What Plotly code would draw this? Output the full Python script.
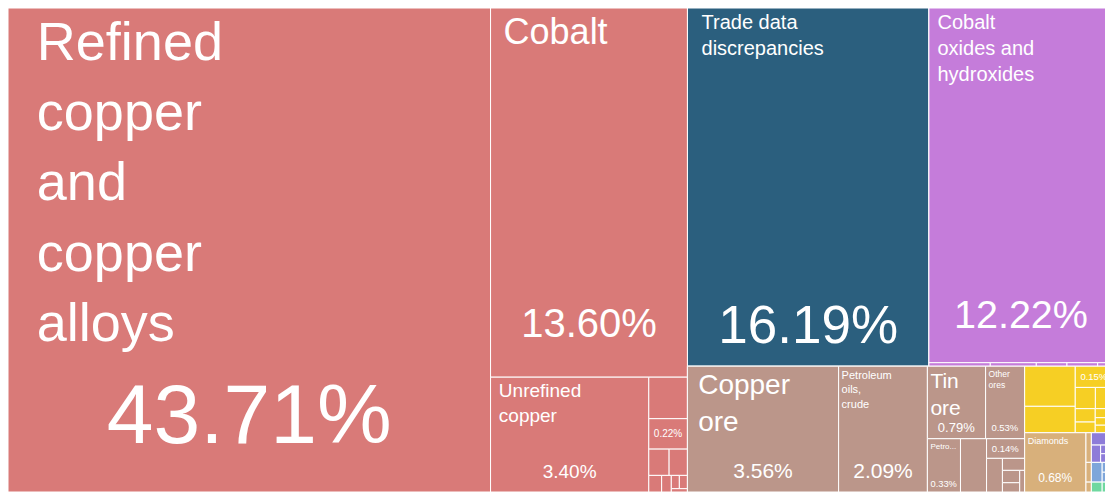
import plotly.graph_objects as go

# ---- data ----
groups = ["Metals", "Chemical Products", "Mineral Products", "Vegetable Products",
          "Precious Metals", "Machines", "Transportation", "Textiles"]
group_colors = ["#D97A78", "#C57CDA", "#BB968A", "#F6CF24",
                "#D8B07B", "#8E7CD9", "#7EA6DA", "#6FD8A0"]

items = [
    "Refined copper and copper alloys", "Cobalt", "Unrefined copper", "Copper waste and scrap",
    "Copper powder", "Raw zinc", "Raw tin", "Germanium", "Raw lead", "Aluminium scrap",
    "Iron scrap", "Copper wire",
    "Trade data discrepancies",
    "Cobalt oxides and hydroxides", "Sulfuric acid", "Copper sulfate", "Cobalt salts",
    "Zinc oxide", "Other chemicals",
    "Copper ore", "Petroleum oils, crude", "Tin ore", "Other ores", "Petroleum gas",
    "Cobalt ore", "Zinc ore", "Manganese ore", "Niobium ore", "Sulphur", "Cement", "Salt",
    "Coffee", "Cocoa beans", "Palm oil", "Tea", "Maize", "Soybeans", "Sesame seeds",
    "Dried legumes", "Bananas", "Rice", "Pepper",
    "Diamonds", "Gold", "Silver", "Precious metal scrap",
    "Excavation machinery", "Pumps", "Electric motors", "Valves", "Generators",
    "Trucks", "Cars", "Vehicle parts", "Aircraft parts",
    "Cotton", "Used clothing", "Sacks",
]
item_groups = (
    ["Metals"] * 12
    + [""]
    + ["Chemical Products"] * 6
    + ["Mineral Products"] * 12
    + ["Vegetable Products"] * 11
    + ["Precious Metals"] * 4
    + ["Machines"] * 5
    + ["Transportation"] * 4
    + ["Textiles"] * 3
)
shares = [
    43.71, 13.60, 3.40, 0.30, 0.22, 0.10, 0.09, 0.04, 0.03, 0.02, 0.02, 0.01,
    16.19,
    12.22, 0.04, 0.03, 0.02, 0.02, 0.01,
    3.56, 2.09, 0.79, 0.53, 0.33, 0.26, 0.14, 0.10, 0.05, 0.04, 0.03, 0.02,
    0.38, 0.25, 0.15, 0.08, 0.07, 0.05, 0.04, 0.03, 0.02, 0.02, 0.01,
    0.68, 0.03, 0.02, 0.01,
    0.05, 0.03, 0.02, 0.01, 0.01,
    0.04, 0.02, 0.01, 0.01,
    0.02, 0.01, 0.01,
]
NB = "\u00a0"
# text shown in tiles (label / percentage)
shown_labels = {
    "Refined copper and copper alloys": "<br>".join(NB + "\u2009" + w for w in
                                                    ["Refined", "copper", "and", "copper", "alloys"]),
    "Cobalt": NB + "Cobalt",
    "Unrefined copper": NB + "Unrefined<br>" + NB + "copper",
    "Trade data discrepancies": NB + NB + "Trade data<br>" + NB + NB + "discrepancies",
    "Cobalt oxides and hydroxides": NB + "Cobalt<br>" + NB + "oxides and<br>" + NB + "hydroxides",
    "Copper ore": NB + "Copper<br>" + NB + "ore",
    "Petroleum oils, crude": "Petroleum<br>oils,<br>crude",
    "Tin ore": "Tin<br>ore",
    "Other ores": "Other<br>ores",
    "Petroleum gas": "Petro...",
    "Diamonds": "Diamonds",
}
label_sizes = {
    "Refined copper and copper alloys": 54, "Cobalt": 36, "Unrefined copper": 19,
    "Trade data discrepancies": 20, "Cobalt oxides and hydroxides": 20,
    "Copper ore": 28, "Petroleum oils, crude": 11, "Tin ore": 21, "Other ores": 8.5,
    "Petroleum gas": 8, "Diamonds": 9,
}
# percentage text: (font size, blank lines above to lift it off the tile bottom)
pct_items = {
    "Refined copper and copper alloys": (84, 3), "Cobalt": (40, 5), "Unrefined copper": (19, 3),
    "Copper powder": (10, 0), "Trade data discrepancies": (53, 4),
    "Cobalt oxides and hydroxides": (39.5, 5),
    "Copper ore": (21, 3), "Petroleum oils, crude": (21, 3), "Tin ore": (13, 3),
    "Other ores": (9.5, 4), "Petroleum gas": (9.5, 3), "Zinc ore": (9.5, 0),
    "Palm oil": (9.5, 0), "Diamonds": (12, 2),
}

# ---- build hierarchy ----
ids, labels, parents, values, colors = [], [], [], [], []
for g, c in zip(groups, group_colors):
    ids.append("g:" + g); labels.append(g); parents.append("")
    values.append(round(sum(v for v, pg in zip(shares, item_groups) if pg == g), 4))
    colors.append(c)
for name, g, v in zip(items, item_groups, shares):
    ids.append(name); labels.append(name)
    parents.append("g:" + g if g else "")
    values.append(v)
    colors.append("#2B5F7E" if g == "" else group_colors[groups.index(g)])

lab_tpl = [shown_labels.get(l, "") if not i.startswith("g:") else "" for i, l in zip(ids, labels)]
lab_size = [label_sizes.get(l, 8) for l in labels]
pct_tpl, pct_size = [], []
for i, l in zip(ids, labels):
    if l in pct_items and not i.startswith("g:"):
        s, n = pct_items[l]
        pct_tpl.append((NB + "<br>") * n + "%{value:.2f}%")
        pct_size.append(s)
    else:
        pct_tpl.append("")
        pct_size.append(8)

common = dict(ids=ids, labels=labels, parents=parents, values=values,
              branchvalues="total", sort=True,
              tiling=dict(packing="squarify", squarifyratio=1, pad=0),
              pathbar=dict(visible=False), hoverinfo="label+value")

fig = go.Figure()
fig.add_trace(go.Treemap(
    **common,
    marker=dict(colors=colors, line=dict(color="white", width=1),
                pad=dict(t=0, l=0, r=0, b=0)),
    texttemplate=lab_tpl, textposition="top left",
    textfont=dict(family="Liberation Sans, Arial, sans-serif", color="white", size=lab_size),
))
fig.add_trace(go.Treemap(
    **common,
    marker=dict(colors=["rgba(0,0,0,0)"] * len(ids), line=dict(color="rgba(0,0,0,0)", width=0),
                pad=dict(t=0, l=0, r=0, b=0)),
    texttemplate=pct_tpl, textposition="middle center",
    textfont=dict(family="Liberation Sans, Arial, sans-serif", color="white", size=pct_size),
))
fig.update_layout(
    width=1105, height=484,
    margin=dict(l=0, r=0, t=0, b=0),
    paper_bgcolor="white",
    showlegend=False,
)
fig.write_html("out.html")
